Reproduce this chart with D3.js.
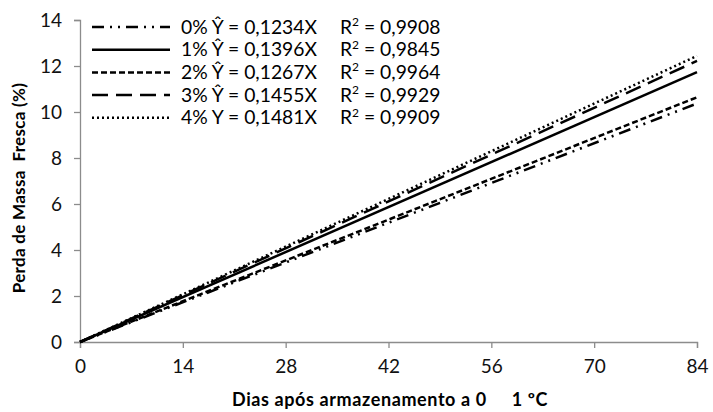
<!DOCTYPE html>
<html>
<head>
<meta charset="utf-8">
<script src="https://cdn.jsdelivr.net/npm/d3@7"></script>
<style>
  body { margin: 0; background: #fff; }
  text { font-family: Lato, "Open Sans", sans-serif; }
</style>
</head>
<body>
<script>
// values
const days = [0, 84];
const series = ['0%', '1%', '2%', '3%', '4%'];
const values0 = [0, 10.37];
const values1 = [0, 11.73];
const values2 = [0, 10.64];
const values3 = [0, 12.22];
const values4 = [0, 12.44];
const equations = ['Ŷ = 0,1234X', 'Ŷ = 0,1396X', 'Ŷ = 0,1267X', 'Ŷ = 0,1455X', 'Y = 0,1481X'];
const r2 = ['0,9908', '0,9845', '0,9964', '0,9929', '0,9909'];
const xTicks = [0, 14, 28, 42, 56, 70, 84];
const yTicks = [0, 2, 4, 6, 8, 10, 12, 14];

const dashes = ['12,6,2,6,2,6', null, '6,3', '16,8', '2,3'];
const allValues = [values0, values1, values2, values3, values4];

const width = 713, height = 412;
const margin = { left: 80, right: 16, top: 20, bottom: 70 };

const svg = d3.select('body')
  .append('svg')
  .attr('width', width)
  .attr('height', height);

const x = d3.scaleLinear().domain([0, 84]).range([margin.left, width - margin.right]);
const y = d3.scaleLinear().domain([0, 14]).range([height - margin.bottom, margin.top]);

// axes
const xAxis = svg.append('g')
  .attr('transform', `translate(0,${y(0)})`)
  .call(d3.axisBottom(x).tickValues(xTicks).tickSize(6).tickPadding(12));
const yAxis = svg.append('g')
  .attr('transform', `translate(${x(0)},0)`)
  .call(d3.axisLeft(y).tickValues(yTicks).tickSize(6).tickPadding(12));

[xAxis, yAxis].forEach(a => {
  a.selectAll('path, line').attr('stroke', '#8c8c8c').attr('stroke-width', 1.3);
  a.selectAll('text').attr('font-size', 19).attr('fill', '#111')
    .style('font-family', 'Lato, sans-serif');
});

// lines
const line = d3.line()
  .x((d, i) => x(days[i]))
  .y(d => y(d));

svg.append('g')
  .selectAll('path')
  .data(allValues)
  .join('path')
  .attr('d', line)
  .attr('fill', 'none')
  .attr('stroke', '#000')
  .attr('stroke-width', 2.5)
  .attr('stroke-dasharray', (d, i) => dashes[i]);

// legend
const legend = svg.append('g');
series.forEach((s, i) => {
  const ly = 27 + i * 22.7;
  legend.append('line')
    .attr('x1', 92).attr('x2', 170)
    .attr('y1', ly).attr('y2', ly)
    .attr('stroke', '#000')
    .attr('stroke-width', 2.5)
    .attr('stroke-dasharray', dashes[i]);
  legend.append('text')
    .attr('x', 181).attr('y', ly + 6.5)
    .attr('font-size', 19.3)
    .text(`${s} ${equations[i]}`);
  const t = legend.append('text')
    .attr('x', 340).attr('y', ly + 6.5)
    .attr('font-size', 19.3);
  t.append('tspan').text('R');
  t.append('tspan').attr('dy', -7.5).attr('font-size', 12).text('2');
  t.append('tspan').attr('dy', 7.5).text(` = ${r2[i]}`);
});

// axis titles
svg.append('text')
  .attr('x', 390).attr('y', 406)
  .attr('text-anchor', 'middle')
  .attr('font-size', 18)
  .attr('font-weight', 'bold')
  .attr('letter-spacing', 0.6)
  .style('white-space', 'pre')
  .text('Dias após armazenamento a 0     1 ºC');

svg.append('text')
  .attr('transform', 'translate(25,188) rotate(-90)')
  .attr('text-anchor', 'middle')
  .attr('font-size', 17)
  .attr('font-weight', 'bold')
  .attr('letter-spacing', 0.3)
  .style('white-space', 'pre')
  .text('Perda de Massa  Fresca (%)');
</script>
</body>
</html>
